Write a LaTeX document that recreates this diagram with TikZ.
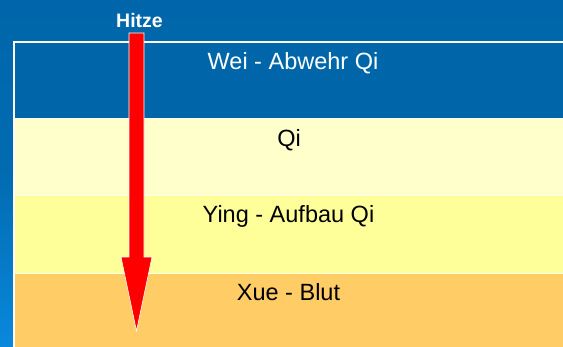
\documentclass[tikz,border=0pt]{standalone}
\usepackage{fontspec}
\setmainfont{Liberation Sans}
\usetikzlibrary{calc}

\definecolor{slideblue}{HTML}{0066AA}
\definecolor{slidelight}{HTML}{0A88DC}
\definecolor{qicol}{HTML}{FFFFCC}
\definecolor{yingcol}{HTML}{FFFF99}
\definecolor{xuecol}{HTML}{FFCC66}

\begin{document}
\begin{tikzpicture}[x=1pt,y=-1pt,
                    band/.style={draw=white!90!yellow,line width=0.8pt},
                    label node/.style={anchor=base,font=\fontsize{23.5}{26}\selectfont},
                    heat/.style={fill=red,draw=white,line width=0.6pt}]
  \useasboundingbox (0,0) rectangle (563,346);
  \shade[top color=slideblue,bottom color=slidelight,middle color=slideblue!85!slidelight]
    (0,0) rectangle (563,346);
  % layers
  \path[band,fill=slideblue] (14,42) rectangle (572,118);
  \path[band,fill=qicol] (14,118) rectangle (572,195);
  \path[band,fill=yingcol] (14,195) rectangle (572,273);
  \path[band,fill=xuecol] (14,273) rectangle (572,350);
  \draw[white,line width=1.5pt] (14,350) -- (14,42) -- (572,42);
  \node[label node,text=white] (wei) at (293,69) {Wei - Abwehr Qi};
  \node[label node] (qi) at (289,146) {Qi};
  \node[label node] (ying) at (288.5,222) {Ying - Aufbau Qi};
  \node[label node] (xue) at (288.5,300) {Xue - Blut};
  % heat arrow
  \node[anchor=base,text=white,font=\fontsize{19.5}{22}\selectfont\bfseries] (hitze) at (139.5,27) {Hitze};
  \coordinate (top) at (136.5,33);
  \coordinate (tip) at (136.5,331);
  \draw[heat] ($(top)+(-7.5,0)$) -- ($(top)+(7.5,0)$) -- ($(tip)+(7.5,-74)$)
    -- ($(tip)+(15.5,-74)$) -- (tip) -- ($(tip)+(-15.5,-74)$)
    -- ($(tip)+(-7.5,-74)$) -- cycle;
\end{tikzpicture}
\end{document}
